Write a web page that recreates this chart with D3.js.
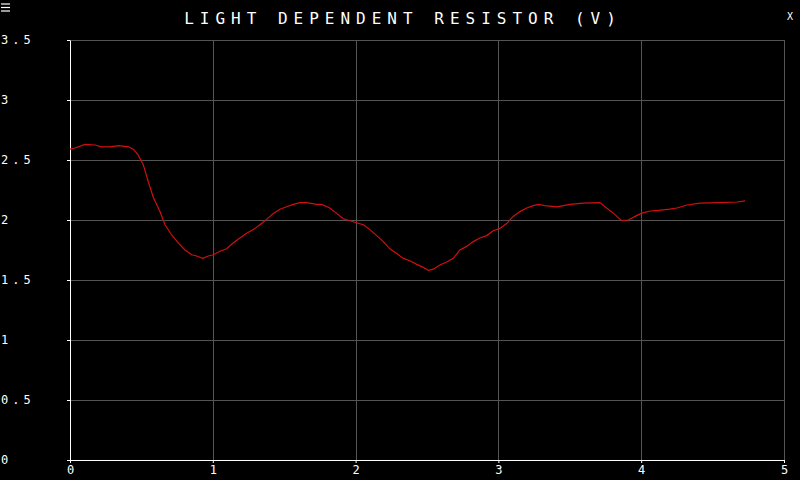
<!DOCTYPE html>
<html>
<head>
<meta charset="utf-8">
<script src="https://cdn.jsdelivr.net/npm/d3@7"></script>
<style>
  html, body { margin: 0; padding: 0; background: #000; }
  svg { display: block; }
  text { font-family: "DejaVu Sans Mono", monospace; fill: #fff; }
</style>
</head>
<body>
<svg id="chart" width="800" height="480"></svg>
<script>
const title = "LIGHT DEPENDENT RESISTOR (V)";
const xTicks = [0, 1, 2, 3, 4, 5];
const yTicks = [0, 0.5, 1, 1.5, 2, 2.5, 3, 3.5];
const timeValues = [0, 0.035, 0.105, 0.175, 0.22, 0.28, 0.34, 0.41, 0.443, 0.478, 0.513, 0.548, 0.583, 0.63, 0.665, 0.712, 0.758, 0.805, 0.852, 0.887, 0.929, 0.969, 1.004, 1.05, 1.097, 1.144, 1.19, 1.237, 1.284, 1.33, 1.377, 1.424, 1.47, 1.517, 1.564, 1.61, 1.657, 1.727, 1.762, 1.82, 1.867, 1.914, 1.984, 2.054, 2.10, 2.148, 2.194, 2.24, 2.288, 2.334, 2.38, 2.428, 2.474, 2.51, 2.545, 2.59, 2.638, 2.684, 2.73, 2.778, 2.824, 2.87, 2.918, 2.964, 3.01, 3.058, 3.104, 3.15, 3.198, 3.244, 3.28, 3.326, 3.41, 3.50, 3.595, 3.71, 3.758, 3.817, 3.863, 3.91, 3.957, 4.00, 4.062, 4.12, 4.20, 4.25, 4.32, 4.41, 4.55, 4.67, 4.727];
const voltageValues = [2.59, 2.60, 2.63, 2.625, 2.61, 2.61, 2.62, 2.61, 2.59, 2.54, 2.46, 2.32, 2.19, 2.07, 1.96, 1.875, 1.81, 1.75, 1.71, 1.70, 1.68, 1.70, 1.71, 1.74, 1.76, 1.81, 1.85, 1.89, 1.92, 1.96, 2.005, 2.055, 2.09, 2.11, 2.13, 2.145, 2.145, 2.13, 2.13, 2.10, 2.055, 2.01, 1.985, 1.96, 1.92, 1.87, 1.82, 1.76, 1.72, 1.68, 1.66, 1.63, 1.605, 1.58, 1.59, 1.625, 1.65, 1.68, 1.75, 1.78, 1.82, 1.85, 1.87, 1.91, 1.93, 1.97, 2.03, 2.07, 2.10, 2.12, 2.13, 2.12, 2.11, 2.13, 2.14, 2.145, 2.10, 2.045, 1.995, 2.00, 2.03, 2.055, 2.075, 2.08, 2.09, 2.10, 2.125, 2.14, 2.145, 2.15, 2.16];

const data = timeValues.map((t, i) => ({ t, v: voltageValues[i] }));

const svg = d3.select("#chart");
const mLeft = 70, mRight = 784, mTop = 40, mBottom = 460;

const x = d3.scaleLinear().domain([0, 5]).range([mLeft, mRight]);
const y = d3.scaleLinear().domain([0, 3.5]).range([mBottom, mTop]);

// grid
svg.append("g").selectAll("line").data(yTicks.filter(d => d > 0)).join("line")
  .attr("x1", mLeft).attr("x2", mRight)
  .attr("y1", d => Math.round(y(d)) + 0.5).attr("y2", d => Math.round(y(d)) + 0.5)
  .attr("stroke", "#555").attr("stroke-width", 1);
svg.append("g").selectAll("line").data(xTicks.filter(d => d > 0)).join("line")
  .attr("x1", d => Math.round(x(d)) + 0.5).attr("x2", d => Math.round(x(d)) + 0.5)
  .attr("y1", mTop).attr("y2", mBottom)
  .attr("stroke", "#555").attr("stroke-width", 1);

// y axis
const yAxis = svg.append("g").attr("transform", `translate(${mLeft},0)`)
  .call(d3.axisLeft(y).tickValues(yTicks).tickSize(3).tickSizeOuter(0).tickFormat(d => String(d)));
yAxis.select(".domain").attr("stroke", "#fff");
yAxis.selectAll(".tick line").attr("stroke", "#fff");
yAxis.selectAll(".tick text")
  .attr("x", -mLeft + 1).attr("text-anchor", "start")
  .attr("font-size", 12).attr("letter-spacing", "4px")
  .style("font-family", "'DejaVu Sans Mono', monospace").attr("fill", "#fff");

// x axis
const xAxis = svg.append("g").attr("transform", `translate(0,${mBottom})`)
  .call(d3.axisBottom(x).tickValues(xTicks).tickSize(3).tickSizeOuter(0).tickFormat(d => String(d)));
xAxis.select(".domain").attr("stroke", "#fff");
xAxis.selectAll(".tick line").attr("stroke", "#fff");
xAxis.selectAll(".tick text")
  .attr("y", 5).attr("font-size", 12)
  .style("font-family", "'DejaVu Sans Mono', monospace").attr("fill", "#fff");

// line
svg.append("path").datum(data)
  .attr("fill", "none").attr("stroke", "#d01010").attr("stroke-width", 1.2)
  .attr("d", d3.line().x(d => x(d.t)).y(d => y(d.v)));

// title
svg.append("text").attr("x", 403).attr("y", 24).attr("text-anchor", "middle")
  .attr("font-size", 16).attr("letter-spacing", "6px").attr("fill", "#eee")
  .text(title);

// menu icon
svg.append("g").selectAll("line").data([4, 7.5, 11]).join("line")
  .attr("x1", 1).attr("x2", 10).attr("y1", d => d).attr("y2", d => d)
  .attr("stroke", "#fff").attr("stroke-width", 1.2);

// close mark
svg.append("text").attr("x", 790).attr("y", 20).attr("text-anchor", "middle")
  .attr("font-size", 10).attr("fill", "#ccc").text("X");
</script>
</body>
</html>
